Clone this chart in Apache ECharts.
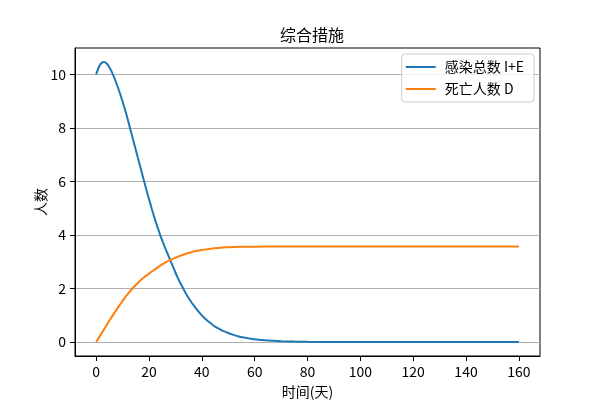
<!DOCTYPE html>
<html>
<head>
<meta charset="utf-8">
<script src="https://cdn.jsdelivr.net/npm/echarts@6/dist/echarts.min.js"></script>
<style>html,body{margin:0;padding:0;background:#fff}#c{width:600px;height:400px}</style>
</head>
<body>
<div id="c"></div>
<script>
const titleText = '综合措施';
const xName = '时间(天)';
const yName = '人数';
const seriesNames = ['感染总数 I+E', '死亡人数 D'];
const xTicks = [0, 20, 40, 60, 80, 100, 120, 140, 160];
const yTicks = [0, 2, 4, 6, 8, 10];

const tInf = [0,1,2,3,4,5,6,7,8,9,10,11,12,13,14,15,16,17,18,19,20,21,22,23,24,25,26,27,28,29,30,31,32,33,34,35,36,37,38,39,40,41,42,43,44,45,46,47,48,50,52,54,56,58,60,65,70,75,80,90,100,120,140,160];
const vInf = [10.0,10.27,10.43,10.47,10.41,10.27,10.08,9.85,9.58,9.3,8.99,8.66,8.31,7.93,7.56,7.19,6.81,6.44,6.07,5.7,5.35,5.0,4.67,4.36,4.07,3.8,3.55,3.31,3.08,2.84,2.6,2.38,2.18,1.99,1.81,1.65,1.5,1.36,1.23,1.11,1.0,0.9,0.81,0.73,0.65,0.58,0.52,0.47,0.42,0.34,0.27,0.21,0.17,0.135,0.105,0.06,0.033,0.018,0.01,0.003,0.001,0,0,0];

const tDeath = [0,2,4,6,8,10,12,14,16,18,20,22,24,26,28,30,32,34,36,38,40,42,44,46,48,50,55,60,70,80,100,120,140,160];
const vDeath = [0,0.32,0.64,0.95,1.25,1.54,1.8,2.03,2.23,2.41,2.56,2.7,2.84,2.96,3.07,3.15,3.23,3.3,3.36,3.41,3.44,3.47,3.5,3.52,3.535,3.545,3.56,3.565,3.57,3.57,3.57,3.57,3.57,3.57];

const font = '"Noto Sans CJK SC", "DejaVu Sans", sans-serif';
const chart = echarts.init(document.getElementById('c'), null, {renderer: 'canvas'});
chart.setOption({
  animation: false,
  backgroundColor: '#fff',
  title: {
    text: titleText, left: 307, top: 22, textAlign: 'center',
    textStyle: {fontFamily: font, fontSize: 16, fontWeight: 'normal', color: '#000'}
  },
  legend: {
    orient: 'vertical', right: 66, top: 54,
    itemWidth: 30, itemHeight: 2, itemGap: 8,
    icon: 'rect',
    padding: [6, 10, 6, 4],
    backgroundColor: 'rgba(255,255,255,0.8)',
    borderColor: '#cccccc', borderWidth: 1, borderRadius: 3,
    textStyle: {fontFamily: font, fontSize: 14, color: '#000', padding: [0,0,0,4]},
    data: seriesNames
  },
  grid: {
    left: 75, right: 60, top: 48, bottom: 44,
    outerBoundsMode: 'none', containLabel: false,
    show: true, borderColor: '#000', borderWidth: 1, backgroundColor: 'transparent'
  },
  xAxis: {
    type: 'value', min: -8, max: 168,
    name: xName, nameLocation: 'middle', nameGap: 29, nameMoveOverlap: false,
    nameTextStyle: {fontFamily: font, fontSize: 14, color: '#000'},
    axisLine: {show: true, onZero: false, lineStyle: {color: '#000', width: 1}},
    axisTick: {show: true, length: 5, customValues: xTicks, lineStyle: {color: '#000'}},
    axisLabel: {customValues: xTicks, margin: 9, fontFamily: font, fontSize: 14, color: '#000'},
    splitLine: {show: false}
  },
  yAxis: {
    type: 'value', min: -0.52, max: 10.99,
    name: yName, nameLocation: 'middle', nameGap: 27, nameMoveOverlap: false,
    nameTextStyle: {fontFamily: font, fontSize: 14, color: '#000'},
    axisLine: {show: true, onZero: false, lineStyle: {color: '#000', width: 1}},
    axisTick: {show: true, length: 5, customValues: yTicks, lineStyle: {color: '#000'}},
    axisLabel: {customValues: yTicks, margin: 9, fontFamily: font, fontSize: 14, color: '#000'},
    splitLine: {show: true, lineStyle: {color: '#b0b0b0', width: 1}}
  },
  series: [
    {
      name: seriesNames[0], type: 'line', showSymbol: false, smooth: 0.2,
      lineStyle: {color: '#1f77b4', width: 2}, itemStyle: {color: '#1f77b4'},
      data: tInf.map((t, i) => [t, vInf[i]])
    },
    {
      name: seriesNames[1], type: 'line', showSymbol: false, smooth: 0.2,
      lineStyle: {color: '#ff7f0e', width: 2}, itemStyle: {color: '#ff7f0e'},
      data: tDeath.map((t, i) => [t, vDeath[i]])
    }
  ]
});
</script>
</body>
</html>
